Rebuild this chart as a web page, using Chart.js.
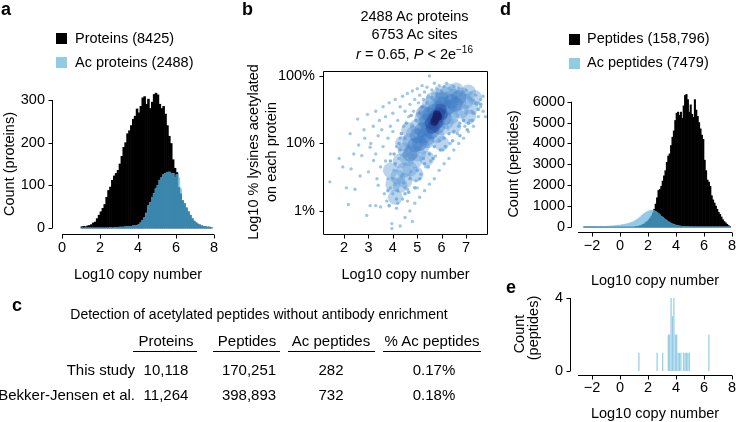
<!DOCTYPE html>
<html>
<head>
<meta charset="utf-8">
<script src="https://cdn.jsdelivr.net/npm/chart.js@4.4.1/dist/chart.umd.min.js"></script>
<style>
  body { margin: 0; background: #fff; }
  #page { position: relative; width: 736px; height: 422px; overflow: hidden; font-family: "Liberation Sans", Arial, sans-serif; color: #000; }
  #page canvas { position: absolute; left: 0; top: 0; }
  .t { position: absolute; white-space: nowrap; font-size: 14.5px; line-height: 1; }
  .c { transform: translateX(-50%); }
  .r { transform: translateX(-100%); }
  .v { transform: translate(-50%, -50%) rotate(-90deg); }
  .letter { font-size: 18px; font-weight: bold; }
  .sq { position: absolute; width: 11px; height: 11px; }
  .tab { font-size: 15px; }
  .tabt { font-size: 14px; }
  .rule { position: absolute; height: 0; border-top: 1.5px solid #000; }
</style>
</head>
<body>
<div id="page">
  <canvas id="chartA" width="736" height="422"></canvas>
  <canvas id="chartB" width="736" height="422"></canvas>
  <canvas id="chartD" width="736" height="422"></canvas>
  <canvas id="chartE" width="736" height="422"></canvas>

  <!-- panel letters -->
  <div class="t letter" style="left:1px;top:0px">a</div>
  <div class="t letter" style="left:242px;top:0px">b</div>
  <div class="t letter" style="left:500px;top:0px">d</div>
  <div class="t letter" style="left:12px;top:296px">c</div>
  <div class="t letter" style="left:506px;top:278px">e</div>

  <!-- legend a -->
  <div class="sq" style="left:56px;top:33px;background:#000"></div>
  <div class="t" style="left:75px;top:31.2px">Proteins (8425)</div>
  <div class="sq" style="left:56px;top:57px;background:#92cbe6"></div>
  <div class="t" style="left:75px;top:55.2px">Ac proteins (2488)</div>

  <!-- legend d -->
  <div class="sq" style="left:569px;top:34px;background:#000"></div>
  <div class="t" style="left:587px;top:31.2px">Peptides (158,796)</div>
  <div class="sq" style="left:569px;top:58px;background:#92cbe6"></div>
  <div class="t" style="left:587px;top:55.2px">Ac peptides (7479)</div>

  <!-- panel b title -->
  <div class="t c" style="left:414.5px;top:9.4px">2488 Ac proteins</div>
  <div class="t c" style="left:414.5px;top:27px">6753 Ac sites</div>
  <div class="t c" style="left:414.5px;top:47px"><i>r</i> = 0.65, <i>P</i> &lt; 2e<span style="position:relative;top:-6px;font-size:10px">−16</span></div>

  <!-- axis titles -->
  <div class="t v" style="left:9px;top:164px">Count (proteins)</div>
  <div class="t v" style="left:252.5px;top:152px">Log10 % lysines acetylated</div>
  <div class="t v" style="left:271px;top:152px">on each protein</div>
  <div class="t v" style="left:513px;top:164px">Count (peptides)</div>
  <div class="t v" style="left:519px;top:334px">Count</div>
  <div class="t v" style="left:533px;top:328px">(peptides)</div>
  <div class="t c" style="left:138px;top:267.3px">Log10 copy number</div>
  <div class="t c" style="left:405.5px;top:267.3px">Log10 copy number</div>
  <div class="t c" style="left:655px;top:273.3px">Log10 copy number</div>
  <div class="t c" style="left:655px;top:405.5px">Log10 copy number</div>

  <!-- panel c table -->
  <div class="t c tabt" style="left:259px;top:307.4px">Detection of acetylated peptides without antibody enrichment</div>
  <div class="t c tab" style="left:166px;top:332.7px">Proteins</div>
  <div class="t c tab" style="left:247px;top:332.7px">Peptides</div>
  <div class="t c tab" style="left:331px;top:332.7px">Ac peptides</div>
  <div class="t c tab" style="left:432px;top:332.7px">% Ac peptides</div>
  <div class="rule" style="left:133px;top:350.5px;width:64px"></div>
  <div class="rule" style="left:213px;top:350.5px;width:67px"></div>
  <div class="rule" style="left:287.5px;top:350.5px;width:87px"></div>
  <div class="rule" style="left:383px;top:350.5px;width:98px"></div>
  <div class="t r tab" style="left:135px;top:362px">This study</div>
  <div class="t c tab" style="left:166px;top:362px">10,118</div>
  <div class="t c tab" style="left:249px;top:362px">170,251</div>
  <div class="t c tab" style="left:331px;top:362px">282</div>
  <div class="t c tab" style="left:434px;top:362px">0.17%</div>
  <div class="t r tab" style="left:135px;top:386.8px">Bekker-Jensen et al.</div>
  <div class="t c tab" style="left:166px;top:386.8px">11,264</div>
  <div class="t c tab" style="left:249px;top:386.8px">398,893</div>
  <div class="t c tab" style="left:331px;top:386.8px">732</div>
  <div class="t c tab" style="left:434px;top:386.8px">0.18%</div>
</div>

<script>
// ---- panel a: copy number of proteins (bin centres, bins 0.1 wide)
const binsA = [1.05,1.15,1.25,1.35,1.45,1.55,1.65,1.75,1.85,1.95,
  2.05,2.15,2.25,2.35,2.45,2.55,2.65,2.75,2.85,2.95,
  3.05,3.15,3.25,3.35,3.45,3.55,3.65,3.75,3.85,3.95,
  4.05,4.15,4.25,4.35,4.45,4.55,4.65,4.75,4.85,4.95,
  5.05,5.15,5.25,5.35,5.45,5.55,5.65,5.75,5.85,5.95,
  6.05,6.15,6.25,6.35,6.45,6.55,6.65,6.75,6.85,6.95,
  7.05,7.15,7.25,7.35,7.45,7.55,7.65,7.75,7.85]
const proteins = [3,4,3,5,6,8,12,14,22,30,
  38,46,55,72,88,96,112,122,128,135,
  150,168,189,200,221,228,240,255,262,279,
  270,285,305,308,290,302,280,295,313,316,
  312,290,280,285,267,240,215,198,160,140,
  130,95,80,64,57,47,38,30,22,16,
  12,9,7,5,4,3,2,2,1]
const acProteins = [0,0,0,0,0,0,0,0,0,0,
  0,0,0,0,0,1,0,1,1,1,
  2,2,2,3,3,4,4,5,5,6,
  8,12,18,24,35,52,60,72,81,92,
  100,112,118,125,128,130,131,127,128,118,
  125,118,92,64,58,46,39,29,23,16,
  12,9,7,5,4,3,2,2,1]
const ticksAx = [0, 2, 4, 6, 8]
const ticksAy = [0, 100, 200, 300]

// ---- panel b: % acetylated lysines vs copy number
// single light points
const dotX = [1.42,1.95,2.29,2.25,2.56,2.96,2.18,2.93,3.07,3.3,
  3.5,3.96,3.96,2.45,2.66,2.73,3.21,3.07,2.82,3.3,
  3.45,3.6,3.2,3.4,3.55,3.7,3.85,3.9,4.0,4.1,
  4.2,4.3,4.4,4.5,4.6,4.7,4.8,4.9,5.0,5.1,
  5.2,5.3,5.4,5.5,5.6,5.7,5.8,5.9,6.0,6.1,
  6.2,6.3,6.4,6.5,6.6,6.7,6.8,6.9,7.0,7.1,
  7.2,7.3,7.4,7.5,7.6,7.7,7.8,7.5,7.3,7.1,
  6.9,6.7,6.5,6.3,6.1,5.9,5.7,5.5,5.3,5.1,
  4.9,4.7,4.5,4.3,4.8,4.4,4.6,3.1,3.3,3.5,
  3.6,3.7,3.8,3.8,3.9,4.0,4.0,4.05,4.1,4.15,
  4.2,4.25,4.3,4.35,4.45,4.5,4.55,4.65,4.75,4.85,
  4.95,5.05,5.15,5.25,5.35,5.45,5.55,5.65,5.75,5.95,
  6.05,6.25,6.35,6.55,6.65,6.85,6.95,7.05,7.15,7.25,
  7.35,7.45,7.6,7.7,3.0,2.6,2.85,3.4,3.65,3.75,
  2.4,2.1,1.8,3.35,3.9,4.15,4.6,5.0,6.75,7.0]
const dotY = [2.7,4.5,4.2,14,23,27,1.25,0.86,1.2,1.2,
  1.15,0.65,0.55,2.1,3.3,6.6,5.6,8.8,16,30,
  22,35,18,13,16,25,40,18,28,45,
  22,35,50,30,55,38,60,45,65,52,
  72,58,68,100,62,78,66,72,58,70,
  78,66,62,70,57,66,52,58,62,48,
  56,44,52,40,35,30,25,25,18,15,
  12,10,8,6,5,4,3,2.5,2,1.6,
  1.3,1.0,0.8,0.6,0.7,1.5,2.1,10,7,4.5,
  9,5.5,12,3,7,1.8,15,4,2.5,9,
  1.3,6,12,3.2,18,2.2,8,25,3.8,30,
  2.8,40,3.5,45,4.5,50,5.5,45,6.5,55,
  8,50,10,45,14,40,18,35,22,30,
  28,38,45,50,3.8,9.5,12,2.4,1.8,1.4,
  7,2.2,6,3,2.2,1.1,1.4,2.2,20,28]
// points along the rim of the dense cloud
const edgeX = [4.0,4.1,4.2,4.3,4.4,4.5,4.5,4.6,4.7,4.8,
  4.9,4.95,5.0,5.1,5.1,5.2,5.3,5.4,5.5,5.6,
  5.7,5.8,5.9,6.0,6.1,6.2,6.3,6.4,6.5,6.6,
  6.7,6.8,6.9,7.0,7.1,7.2,7.3,7.4,7.5,7.6,
  3.8,3.9,4.05,4.25,4.35,4.55,4.75,5.25,5.45,5.65,
  5.95,6.15,6.45,6.75,7.05,7.25,3.85,4.15,4.45,4.65]
const edgeY = [3,5,2,8,3.5,12,1.8,9,3,18,
  2.2,22,4,28,3,35,5,40,7,48,
  9,55,11,60,12,56,14,52,15,48,
  18,54,22,52,20,45,28,40,32,38,
  2,5.5,7,10,14,20,26,6,4.5,6,
  8,9,11,13,16,22,1.2,1.5,2.6,1.9]
// overlapping layers of the density colour ramp
const cloudX = [4.0,3.9,4.1,4.2,4.3,4.3,4.45,4.5,4.5,4.6,
  4.7,4.7,4.8,4.85,4.9,5.0,5.0,5.05,5.15,5.2,
  5.2,5.3,5.35,5.4,5.45,5.5,5.55,5.6,5.65,5.7,
  5.75,5.8,5.85,5.9,5.95,6.0,6.05,6.1,6.2,6.2,
  6.3,6.35,6.4,6.5,6.55,6.6,6.7,6.8,6.85,7.0,
  7.1,7.2,7.35,4.4,4.65,6.0,6.5,7.1,5.4,4.95]
const cloudY = [2.5,4,1.6,3.2,5.5,2.4,4,8,2.8,6,
  11,4.2,7.5,14,5.5,10,18,7,13,24,
  9,17,30,12,22,38,15,28,45,19,
  34,13,50,24,40,17,55,30,45,21,
  60,35,25,50,30,62,40,30,52,42,
  58,35,48,10,16,10,18,25,6,3.5]
const midX = [4.7,4.9,5.0,5.1,5.2,5.3,5.35,5.45,5.5,5.6,
  5.6,5.7,5.8,5.9,5.95,6.05,6.1,6.25,6.4,6.55,
  5.25,6.0,5.4,5.85,6.7]
const midY = [7,9.5,13,10,16,13,21,17,27,21,
  15,30,22,33,27,38,24,34,42,38,
  28,45,11,18,48]
const coreX = [5.55,5.65,5.75,5.85,5.9,5.8,5.7,6.0,5.6,5.95]
const coreY = [20,23,26,24,28,20,18,27,17,32]
const peakX = [5.75,5.85,5.8,5.7]
const peakY = [23,25,27,21]
const ticksBx = [2, 3, 4, 5, 6, 7]
const ticksBy = [1, 10, 100]

// ---- panel d: copy number of peptides (bin centres, bins 0.1 wide)
const binsD = [-2.55,-2.45,-2.35,-2.25,-2.15,-2.05,-1.95,-1.85,-1.75,-1.65,
  -1.55,-1.45,-1.35,-1.25,-1.15,-1.05,-0.95,-0.85,-0.75,-0.65,
  -0.55,-0.45,-0.35,-0.25,-0.15,-0.05,0.05,0.15,0.25,0.35,
  0.45,0.55,0.65,0.75,0.85,0.95,1.05,1.15,1.25,1.35,
  1.45,1.55,1.65,1.75,1.85,1.95,2.05,2.15,2.25,2.35,
  2.45,2.55,2.65,2.75,2.85,2.95,3.05,3.15,3.25,3.35,
  3.45,3.55,3.65,3.75,3.85,3.95,4.05,4.15,4.25,4.35,
  4.45,4.55,4.65,4.75,4.85,4.95,5.05,5.15,5.25,5.35,
  5.45,5.55,5.65,5.75,5.85,5.95,6.05,6.15,6.25,6.35,
  6.45,6.55,6.65,6.75,6.85,6.95,7.05,7.15,7.25,7.35,
  7.45,7.55,7.65,7.75,7.85]
const peptides = [0,0,0,0,0,0,0,0,0,0,
  0,0,0,0,0,0,0,0,0,0,
  0,0,0,0,0,0,0,0,0,0,
  0,0,0,0,0,0,10,20,30,45,
  60,90,120,160,210,270,340,420,530,680,
  850,1100,1400,1750,1800,1950,2200,2450,2700,3100,
  3400,3500,3900,4300,4600,5100,5450,5500,5350,5500,
  5200,5800,6300,6350,6100,5500,5850,5400,5250,6100,
  5600,5300,5000,4700,4400,4200,3200,2700,2250,2150,
  1950,1500,1300,1150,1000,850,700,600,480,350,
  260,200,130,70,30]
const acPeptides = [5,6,8,9,10,12,13,15,16,18,
  20,22,25,28,30,33,36,40,44,48,
  52,58,64,70,78,86,95,105,118,130,
  145,160,180,200,225,255,290,330,380,430,
  480,540,600,650,700,740,770,790,800,790,
  770,730,680,630,570,510,450,390,340,290,
  245,205,170,140,115,92,74,58,45,35,
  27,20,15,11,8,6,4,3,2,1,
  1,0,0,0,0,0,0,0,0,0,
  0,0,0,0,0,0,0,0,0,0,
  0,0,0,0,0]
const ticksDx = [-2, 0, 2, 4, 6, 8]
const ticksDy = [0, 1000, 2000, 3000, 4000, 5000, 6000]

// ---- panel e: ac peptides found without enrichment
const binsE = [1.35,2.65,3.05,3.45,3.55,3.65,3.75,3.85,3.95,4.05,4.15,4.25,4.35,4.55,4.65,4.75,4.85,4.95,6.35]
const acPepE = [1,1,1,2,2,4,3,4,2,2,1,1,1,1,1,1,1,1,2]
const ticksEy = [0, 4]

const LIGHT = '#92cbe6'
const DARK = '#3a86ad'

Chart.defaults.font.family = '"Liberation Sans", Arial, sans-serif'
Chart.defaults.font.size = 14.5
Chart.defaults.color = '#000'
Chart.defaults.animation = false
Chart.defaults.responsive = false

//draws R style axes (line + outside ticks) a little away from the plot area
const rAxes = {
  id: 'rAxes',
  afterDatasetsDraw(chart, args, o) {
    const ctx = chart.ctx
    const a = chart.chartArea
    const xs = chart.scales.x
    const ys = chart.scales.y
    const by = Math.round(a.bottom + o.gapX) + 0.5
    const lx = Math.round(a.left - o.gapY) - 0.5
    ctx.save()
    ctx.strokeStyle = '#000'
    ctx.lineWidth = 1
    ctx.beginPath()
    if (o.box) {
      ctx.rect(Math.round(a.left) - 0.5, Math.round(a.top) + 0.5, Math.round(a.right - a.left), Math.round(a.bottom - a.top))
    } else {
      ctx.moveTo(a.left, by)
      ctx.lineTo(a.right, by)
      ctx.moveTo(lx, a.bottom)
      ctx.lineTo(lx, a.top)
    }
    xs.ticks.forEach(t => {
      let p = Math.round(xs.getPixelForValue(t.value)) + 0.5
      ctx.moveTo(p, by)
      ctx.lineTo(p, by + o.tick)
    })
    ys.ticks.forEach(t => {
      let p = Math.round(ys.getPixelForValue(t.value)) + 0.5
      ctx.moveTo(lx, p)
      ctx.lineTo(lx - o.tick, p)
    })
    ctx.stroke()
    ctx.restore()
  }
}

function fmt(v) {
  return v < 0 ? '\u2212' + Math.abs(v) : String(v)
}

//scale whose ticks sit exactly on the given values
function axis(type, min, max, ticks, pad, label) {
  return {
    type: type, min: min, max: max, offset: false,
    afterBuildTicks: s => { s.ticks = ticks.map(v => ({ value: v })) },
    grid: { display: false, drawTicks: false },
    border: { display: false },
    ticks: { padding: pad, autoSkip: false, maxRotation: 0, callback: label || fmt }
  }
}

//pins the plot area to a pixel box [left, top, right, bottom]
function makeChart(id, type, datasets, box, xs, ys, axes) {
  xs.afterFit = s => { s.height = 422 - box[3]; s.paddingLeft = 0; s.paddingRight = 0 }
  ys.afterFit = s => { s.width = box[0]; s.paddingTop = 0; s.paddingBottom = 0 }
  return new Chart(document.getElementById(id), {
    type: type,
    data: { datasets: datasets },
    options: {
      layout: { padding: { left: 0, top: box[1], right: 736 - box[2], bottom: 0 } },
      scales: { x: xs, y: ys },
      plugins: { legend: { display: false }, tooltip: { enabled: false }, rAxes: axes }
    },
    plugins: [rAxes]
  })
}

function histSet(bins, values, color, pct) {
  return {
    data: bins.map((b, i) => ({ x: b, y: values[i] })),
    backgroundColor: color,
    borderWidth: 0,
    barPercentage: pct || 1,
    categoryPercentage: 1,
    grouped: false,
    clip: false
  }
}

function dots(xv, yv, color, r) {
  return {
    data: xv.map((x, i) => ({ x: x, y: yv[i] })),
    backgroundColor: color,
    pointRadius: r,
    pointBorderWidth: 0
  }
}

// panel a
let overlapA = proteins.map((v, i) => Math.min(v, acProteins[i]))
makeChart('chartA', 'bar', [
    histSet(binsA, overlapA, DARK),
    histSet(binsA, acProteins, LIGHT),
    histSet(binsA, proteins, '#000')
  ], [62, 100, 214, 228],
  axis('linear', 0, 8, ticksAx, 11),
  axis('linear', 0, 300, ticksAy, 17),
  { gapX: 6, gapY: 9, tick: 4 })

// panel b
makeChart('chartB', 'scatter', [
    dots(peakX, peakY, 'rgba(28,30,100,0.8)', 4),
    dots(coreX, coreY, 'rgba(35,75,160,0.45)', 6),
    dots(midX, midY, 'rgba(60,120,195,0.4)', 7.5),
    dots(cloudX, cloudY, 'rgba(105,160,215,0.45)', 7.5),
    dots(edgeX, edgeY, '#86b8df', 1.8),
    dots(dotX, dotY, '#9dc8e6', 1.7)
  ], [324, 71, 488, 234],
  axis('linear', 1.18, 7.9, ticksBx, 5),
  axis('logarithmic', 0.456, 118.6, ticksBy, 9, v => v + '%'),
  { gapX: 0, gapY: 0, tick: 4, box: true })

// panel d
let overlapD = peptides.map((v, i) => Math.min(v, acPeptides[i]))
makeChart('chartD', 'bar', [
    histSet(binsD, overlapD, DARK),
    histSet(binsD, acPeptides, LIGHT),
    histSet(binsD, peptides, '#000')
  ], [578, 101.7, 732, 227],
  axis('linear', -3, 8, ticksDx, 10),
  axis('linear', 0, 6000, ticksDy, 13),
  { gapX: 5, gapY: 6, tick: 4 })

// panel e
makeChart('chartE', 'bar', [
    histSet(binsE, acPepE, LIGHT, 0.85)
  ], [578, 298, 732, 371],
  axis('linear', -3, 8, ticksDx, 8),
  axis('linear', 0, 4, ticksEy, 15),
  { gapX: 4, gapY: 7, tick: 4 })
</script>
</body>
</html>
